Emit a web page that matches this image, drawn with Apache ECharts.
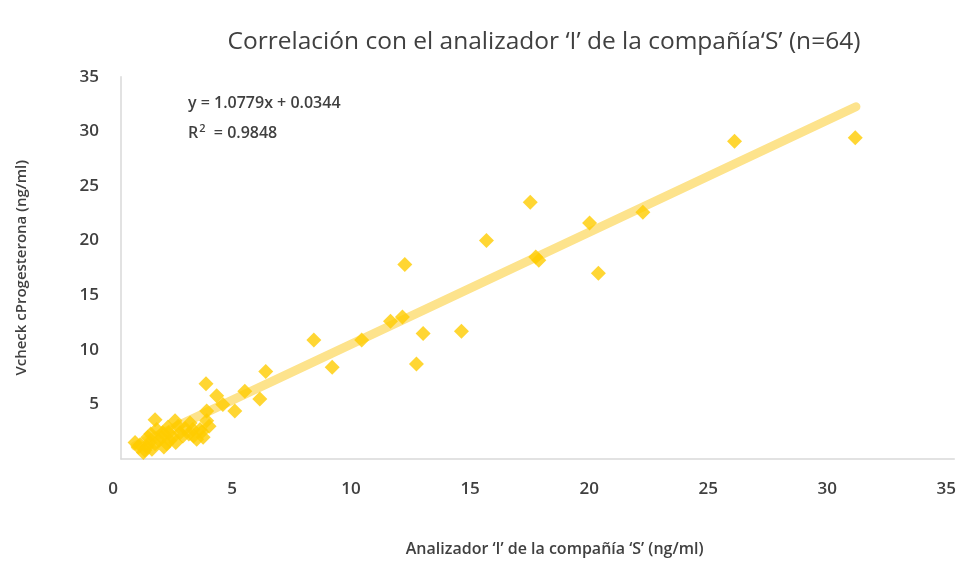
<!DOCTYPE html>
<html>
<head>
<meta charset="utf-8">
<script src="https://cdn.jsdelivr.net/npm/echarts@6/dist/echarts.min.js"></script>
<style>html,body{margin:0;padding:0;background:#fff}#c{width:959px;height:562px}</style>
</head>
<body>
<div id="c"></div>
<script>
const titleText = "Correlación con el analizador ‘I’ de la compañía‘S’ (n=64)";
const xName = "Analizador ‘I’ de la compañía ‘S’ (ng/ml)";
const yName = "Vcheck cProgesterona (ng/ml)";
const eqLine1 = "y = 1.0779x + 0.0344";
const eqLine2 = "= 0.9848";

const xValues = [30.84, 25.77, 21.92, 19.68, 20.05, 17.19, 17.42, 17.55, 15.35, 14.3,
  11.92, 11.82, 11.32, 12.69, 12.41, 10.11, 8.1, 8.87, 6.08, 5.83,
  5.2, 4.78, 4.28, 4.02, 3.57, 3.6, 3.6, 3.32, 3.45, 2.9,
  3.02, 2.27, 1.97, 1.43, 1.5, 1.71, 1.92, 1.43, 1.08, 0.94,
  0.59, 0.73, 1.13, 2.18, 2.48, 3.18, 0.8, 1.0, 1.2, 1.3,
  1.6, 1.75, 1.8, 2.05, 2.3, 2.4, 2.6, 2.7, 2.85, 3.05,
  3.4, 3.7, 1.25, 2.0];
const yValues = [29.4, 29.1, 22.6, 21.6, 17.0, 23.5, 18.5, 18.2, 20.0, 11.7,
  17.8, 13.0, 12.6, 11.5, 8.7, 10.9, 10.9, 8.4, 8.0, 5.5,
  6.2, 4.4, 5.0, 5.8, 6.9, 4.4, 3.5, 2.7, 2.0, 3.3,
  2.7, 3.5, 2.9, 3.6, 2.7, 2.0, 1.4, 1.4, 1.1, 0.6,
  1.5, 1.1, 2.0, 2.0, 2.4, 1.8, 1.3, 0.8, 1.5, 0.9,
  1.7, 2.4, 1.1, 1.7, 1.5, 3.0, 2.1, 2.8, 2.3, 2.1,
  2.5, 3.0, 2.3, 2.4];
const trendX = [0.59, 30.87];
const trendY = [1.2, 32.25];
const xTicks = [0, 5, 10, 15, 20, 25, 30, 35];
const yTicks = [5, 10, 15, 20, 25, 30, 35];

const points = xValues.map((x, i) => [x, yValues[i]]);
const trend = trendX.map((x, i) => [x, trendY[i]]);

const font = "'Open Sans', 'Noto Sans', sans-serif";
const txt = '#404040';
const chart = echarts.init(document.getElementById('c'), null, {renderer: 'canvas'});
chart.setOption({
  backgroundColor: '#fff',
  animation: false,
  grid: {left: 121, right: 4, top: 76.7, bottom: 100.3, containLabel: false},
  xAxis: {
    type: 'value', min: 0, max: 35, interval: 5,
    name: xName, nameLocation: 'middle', nameGap: 82,
    nameTextStyle: {fontFamily: font, fontSize: 16, fontWeight: 600, color: txt, padding: [0, 0, 0, 34]},
    axisLine: {show: true, lineStyle: {color: '#d9d9d9', width: 1.5}},
    axisTick: {show: false},
    splitLine: {show: false},
    axisLabel: {
      fontFamily: font, fontSize: 17, fontWeight: 600, color: txt, margin: 22,
      padding: [0, 16, 0, 0],
      formatter: v => xTicks.includes(v) ? String(v) : ''
    }
  },
  yAxis: {
    type: 'value', min: 0, max: 35, interval: 5,
    name: yName, nameLocation: 'middle', nameGap: 92, nameRotate: 90,
    nameTextStyle: {fontFamily: font, fontSize: 15, fontWeight: 600, color: txt},
    axisLine: {show: true, lineStyle: {color: '#d9d9d9', width: 1.5}},
    axisTick: {show: false},
    splitLine: {show: false},
    axisLabel: {
      fontFamily: font, fontSize: 17, fontWeight: 600, color: txt, margin: 22,
      formatter: v => yTicks.includes(v) ? String(v) : ''
    }
  },
  graphic: [
    {type: 'text', x: 544, y: 42, style: {text: titleText, fontFamily: font, fontSize: 24.5, fill: txt, textAlign: 'center', textVerticalAlign: 'middle'}},
    {type: 'text', x: 188, y: 103, style: {text: eqLine1, fontFamily: font, fontSize: 16, fontWeight: 600, fill: txt, textVerticalAlign: 'middle'}},
    {type: 'text', x: 188, y: 133, style: {
      text: '{r|R}{s|2}{r|  ' + eqLine2 + '}', fill: txt, textVerticalAlign: 'middle',
      rich: {
        r: {fontFamily: font, fontSize: 16, fontWeight: 600, fill: txt, color: txt},
        s: {fontFamily: font, fontSize: 11, fontWeight: 600, color: txt, verticalAlign: 'top', padding: [0, 0, 8, 1]}
      }
    }}
  ],
  series: [
    {
      type: 'line', data: trend, showSymbol: false, symbol: 'none', z: 1,
      lineStyle: {color: '#FDE38C', width: 9, cap: 'round'}
    },
    {
      type: 'scatter', data: points, symbol: 'diamond', symbolSize: 15, z: 2,
      itemStyle: {color: '#FFCC00'}
    }
  ]
});
</script>
</body>
</html>
